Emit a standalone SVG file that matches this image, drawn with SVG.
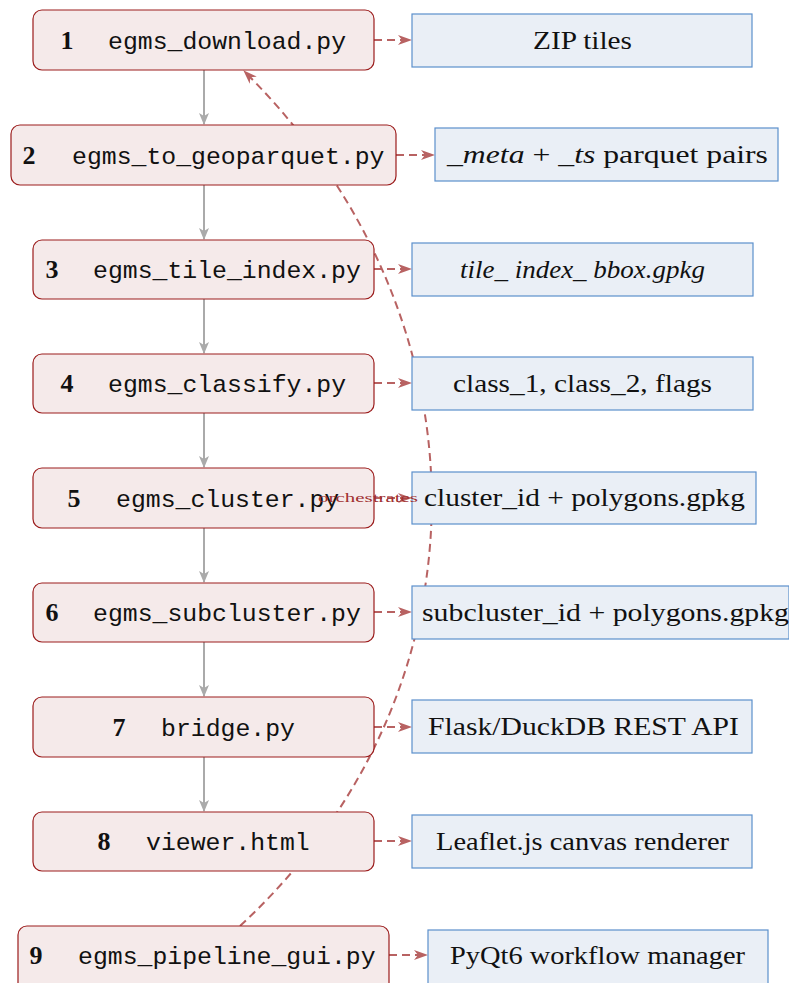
<svg xmlns="http://www.w3.org/2000/svg" width="789" height="983" viewBox="0 0 789 983">
<style>
.node{fill:#f5eaea;stroke:#9b1c1c;stroke-width:1.2}
.out{fill:#eaeff6;stroke:#5b8fcc;stroke-width:1.2}
.num{font-family:"Liberation Serif",serif;font-weight:bold;font-size:26px;fill:#111;text-anchor:middle}
.name{font-family:"Liberation Mono",monospace;font-size:24.8px;fill:#111}
.lbl{font-family:"Liberation Serif",serif;font-size:26px;fill:#111;text-anchor:middle}
.flow{stroke:#aaaaaa;stroke-width:2;fill:none}
.dash{stroke:#b86262;stroke-width:2;fill:none;stroke-dasharray:8 5}
.orch{font-family:"Liberation Serif",serif;font-size:13px;fill:#a03030;text-anchor:middle}
</style>
<defs>
<marker id="ag" markerWidth="12" markerHeight="10" refX="11" refY="5" orient="auto" markerUnits="userSpaceOnUse"><path d="M0,0 L12,5 L0,10 L3,5 z" fill="#aaaaaa"/></marker>
<marker id="ar" markerWidth="14" markerHeight="10" refX="13" refY="5" orient="auto" markerUnits="userSpaceOnUse"><path d="M0,0 L14,5 L0,10 L4,5 z" fill="#b86262"/></marker>
</defs>
<g id="connectors">
<line class="flow" x1="204" y1="70" x2="204" y2="124" marker-end="url(#ag)"/>
<line class="flow" x1="204" y1="185" x2="204" y2="239" marker-end="url(#ag)"/>
<line class="flow" x1="204" y1="299" x2="204" y2="353" marker-end="url(#ag)"/>
<line class="flow" x1="204" y1="413" x2="204" y2="467" marker-end="url(#ag)"/>
<line class="flow" x1="204" y1="528" x2="204" y2="582" marker-end="url(#ag)"/>
<line class="flow" x1="204" y1="642" x2="204" y2="696" marker-end="url(#ag)"/>
<line class="flow" x1="204" y1="757" x2="204" y2="811" marker-end="url(#ag)"/>
<line class="dash" x1="374" y1="40" x2="411" y2="40" marker-end="url(#ar)"/>
<line class="dash" x1="396" y1="155" x2="434" y2="155" marker-end="url(#ar)"/>
<line class="dash" x1="374" y1="269" x2="411" y2="269" marker-end="url(#ar)"/>
<line class="dash" x1="374" y1="383" x2="411" y2="383" marker-end="url(#ar)"/>
<line class="dash" x1="374" y1="498" x2="411" y2="498" marker-end="url(#ar)"/>
<line class="dash" x1="374" y1="612" x2="411" y2="612" marker-end="url(#ar)"/>
<line class="dash" x1="374" y1="727" x2="411" y2="727" marker-end="url(#ar)"/>
<line class="dash" x1="374" y1="841" x2="411" y2="841" marker-end="url(#ar)"/>
<line class="dash" x1="389" y1="955" x2="427" y2="955" marker-end="url(#ar)"/>
<path class="dash" d="M240,926 C495,690 495,320 244,71" marker-end="url(#ar)"/>
</g>
<g id="n1"><rect class="node" x="33" y="10" width="341" height="60" rx="9"/><text class="num" x="67" y="49">1</text><text class="name" x="108" y="49">egms_download.py</text></g>
<g id="n2"><rect class="node" x="11" y="125" width="385" height="60" rx="9"/><text class="num" x="29" y="164">2</text><text class="name" x="72" y="164">egms_to_geoparquet.py</text></g>
<g id="n3"><rect class="node" x="33" y="240" width="341" height="59" rx="9"/><text class="num" x="52" y="278">3</text><text class="name" x="93" y="278">egms_tile_index.py</text></g>
<g id="n4"><rect class="node" x="33" y="354" width="341" height="59" rx="9"/><text class="num" x="67" y="392">4</text><text class="name" x="108" y="392">egms_classify.py</text></g>
<g id="n5"><rect class="node" x="33" y="468" width="341" height="60" rx="9"/><text class="num" x="74" y="507">5</text><text class="name" x="116" y="507">egms_cluster.py</text></g>
<g id="n6"><rect class="node" x="33" y="583" width="341" height="59" rx="9"/><text class="num" x="52" y="621">6</text><text class="name" x="93" y="621">egms_subcluster.py</text></g>
<g id="n7"><rect class="node" x="33" y="697" width="341" height="60" rx="9"/><text class="num" x="119" y="736">7</text><text class="name" x="161" y="736">bridge.py</text></g>
<g id="n8"><rect class="node" x="33" y="812" width="341" height="59" rx="9"/><text class="num" x="104" y="850">8</text><text class="name" x="146" y="850">viewer.html</text></g>
<g id="n9"><rect class="node" x="18" y="926" width="371" height="66" rx="9"/><text class="num" x="36" y="964">9</text><text class="name" x="78" y="964">egms_pipeline_gui.py</text></g>
<g id="o1"><rect class="out" x="412" y="14" width="340" height="53"/><text class="lbl" x="582.5" y="49" textLength="99" lengthAdjust="spacingAndGlyphs">ZIP tiles</text></g>
<g id="o2"><rect class="out" x="435" y="128" width="343" height="53"/><text class="lbl" x="607.5" y="163" textLength="321" lengthAdjust="spacingAndGlyphs">_<tspan font-style="italic">meta</tspan> + _<tspan font-style="italic">ts</tspan> parquet pairs</text></g>
<g id="o3"><rect class="out" x="412" y="243" width="341" height="53"/><text class="lbl" x="582.5" y="278" textLength="245" lengthAdjust="spacingAndGlyphs" font-style="italic">tile_ index_ bbox.gpkg</text></g>
<g id="o4"><rect class="out" x="412" y="357" width="341" height="53"/><text class="lbl" x="582.5" y="392" textLength="259" lengthAdjust="spacingAndGlyphs">class_1, class_2, flags</text></g>
<g id="o5"><rect class="out" x="412" y="472" width="344" height="52"/><text class="lbl" x="584.5" y="506" textLength="321" lengthAdjust="spacingAndGlyphs">cluster_id + polygons.gpkg</text></g>
<g id="o6"><rect class="out" x="412" y="586" width="377" height="53"/><text class="lbl" x="605.5" y="621" textLength="367" lengthAdjust="spacingAndGlyphs">subcluster_id + polygons.gpkg</text></g>
<g id="o7"><rect class="out" x="412" y="700" width="340" height="53"/><text class="lbl" x="583.5" y="735" textLength="311" lengthAdjust="spacingAndGlyphs">Flask/DuckDB REST API</text></g>
<g id="o8"><rect class="out" x="412" y="815" width="340" height="53"/><text class="lbl" x="582.5" y="850" textLength="293" lengthAdjust="spacingAndGlyphs">Leaflet.js canvas renderer</text></g>
<g id="o9"><rect class="out" x="428" y="930" width="340" height="55"/><text class="lbl" x="597.5" y="964" textLength="295" lengthAdjust="spacingAndGlyphs">PyQt6 workflow manager</text></g>
<g id="connector-label"><text class="orch" x="368" y="502" textLength="100" lengthAdjust="spacingAndGlyphs">orchestrates</text></g>
</svg>
